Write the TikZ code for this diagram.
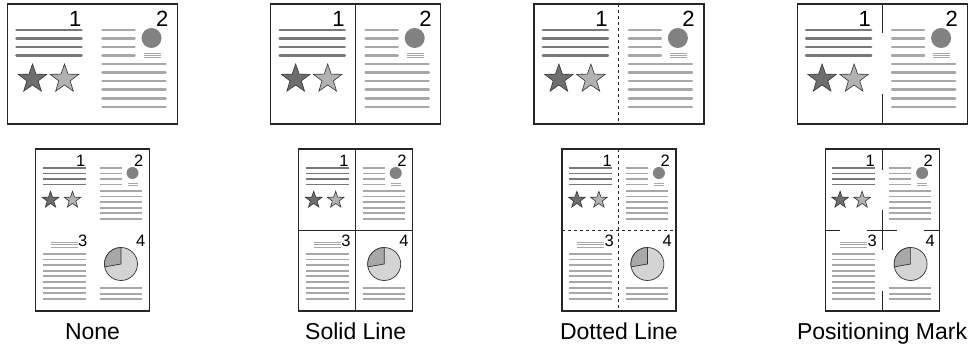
\documentclass[tikz,border=0pt]{standalone}
\usepackage{fontspec}
\setmainfont{Liberation Sans}
\usetikzlibrary{shapes.geometric}
\definecolor{pgdark}{RGB}{120,120,120}
\definecolor{pglight}{RGB}{168,168,168}
\definecolor{stardark}{RGB}{110,110,110}
\definecolor{starlight}{RGB}{178,178,178}
\definecolor{dotgray}{RGB}{130,130,130}
\definecolor{pielight}{RGB}{212,212,212}
\definecolor{piedark}{RGB}{168,168,168}

\begin{document}
\begin{tikzpicture}[x=1pt,y=-1pt,
  sheet/.style={draw=black!85,line width=1.2pt},
  bigline/.style={line width=2.6pt,line cap=round},
  smallline/.style={line width=1.8pt},
  hairline/.style={line width=0.6pt},
  fold/.style={draw=black!85,line width=0.9pt},
  pgstar/.style={star,star points=5,star point ratio=2.5,draw=black!80,line width=0.6pt,inner sep=0pt}]
\fill[white] (0,0) rectangle (974,347);
\foreach \c/\lab [count=\i] in {92.5/None,355.7/Solid Line,618.9/Dotted Line,882.1/Positioning Mark} {
% two pages on one sheet
\begin{scope}[shift={(\c-85,4)}]
\draw[sheet] (0,0) rectangle (170,120);
\node[anchor=base east,inner sep=0pt,font=\fontsize{22}{24}\selectfont] (one-\i) at (74,23) {1};
\node[anchor=base east,inner sep=0pt,font=\fontsize{22}{24}\selectfont] (two-\i) at (161,23) {2};
\foreach \y in {26,34.6,43.2,51.8} {\draw[bigline,pgdark] (9,\y) -- (74,\y); \draw[bigline,pglight] (95,\y) -- (127,\y);}
\foreach \y in {60,68.6,77.2,85.8,94.4,103} {\draw[bigline,pglight] (95,\y) -- (158,\y);}
\foreach \y in {49,51,53} {\draw[hairline,pglight] (136,\y) -- (153,\y);}
\fill[dotgray] (144,34) circle (10);
\node[pgstar,fill=stardark,minimum size=30pt] (stara-\i) at (25,75) {};
\node[pgstar,fill=starlight,minimum size=30pt] (starb-\i) at (57,75) {};
\end{scope}
% four pages on one sheet
\begin{scope}[shift={(\c-57,149)}]
\draw[sheet] (0,0) rectangle (114,162);
\node[anchor=base east,inner sep=0pt,font=\fontsize{16.5}{18}\selectfont] (p1-\i) at (50,18) {1};
\node[anchor=base east,inner sep=0pt,font=\fontsize{16.5}{18}\selectfont] (p2-\i) at (108,18) {2};
\node[anchor=base east,inner sep=0pt,font=\fontsize{16.5}{18}\selectfont] (p3-\i) at (52,98) {3};
\node[anchor=base east,inner sep=0pt,font=\fontsize{16.5}{18}\selectfont] (p4-\i) at (110,98) {4};
\foreach \y in {19,24.5,30,35.5} {\draw[smallline,pgdark] (7,\y) -- (50,\y); \draw[smallline,pglight] (64,\y) -- (86,\y);}
\foreach \y in {42,47.6,53.2,58.8,64.4,70} {\draw[smallline,pglight] (64,\y) -- (106,\y);}
\foreach \y in {34,36} {\draw[hairline,pglight] (92,\y) -- (102,\y);}
\fill[dotgray] (97,24) circle (6);
\node[pgstar,fill=stardark,minimum size=17.5pt] (starc-\i) at (15,51) {};
\node[pgstar,fill=starlight,minimum size=17.5pt] (stard-\i) at (37,51) {};
\foreach \y in {93,95.5,98} {\draw[hairline,pglight] (15,\y) -- (42,\y);}
\foreach \k in {0,...,8} {\draw[smallline,pglight] (7,105+5.6*\k) -- (50,105+5.6*\k);}
\filldraw[fill=pielight,draw=black!80,line width=0.7pt] (85.5,115) circle (16.5);
\filldraw[fill=piedark,draw=black!80,line width=0.7pt] (85.5,115) -- ++(-90:16.5) arc[start angle=-90,end angle=-190,radius=16.5] -- cycle;
\foreach \y in {139,144.6,150} {\draw[smallline,pglight] (64,\y) -- (106,\y);}
\end{scope}
\node[anchor=base,inner sep=0pt,font=\fontsize{23}{25}\selectfont] (label-\i) at (\c,339) {\lab};
}
% Solid Line
\draw[fold] (355.7,4) -- (355.7,124);
\draw[fold] (355.7,149) -- (355.7,311) (298.7,230) -- (412.7,230);
% Dotted Line
\draw[fold,dash pattern=on 3pt off 3pt] (618.9,4) -- (618.9,124);
\draw[fold,dash pattern=on 3pt off 3pt] (618.9,149) -- (618.9,311) (561.9,230) -- (675.9,230);
% Positioning Mark
\draw[fold] (882.1,4) -- (882.1,33) (882.1,94) -- (882.1,124);
\draw[fold] (882.1,149) -- (882.1,170) (882.1,291) -- (882.1,311);
\draw[fold] (825.1,230) -- (840.1,230) (924.1,230) -- (939.1,230);
\draw[fold] (867.1,230) -- (897.1,230) (882.1,210) -- (882.1,250);
\end{tikzpicture}
\end{document}
